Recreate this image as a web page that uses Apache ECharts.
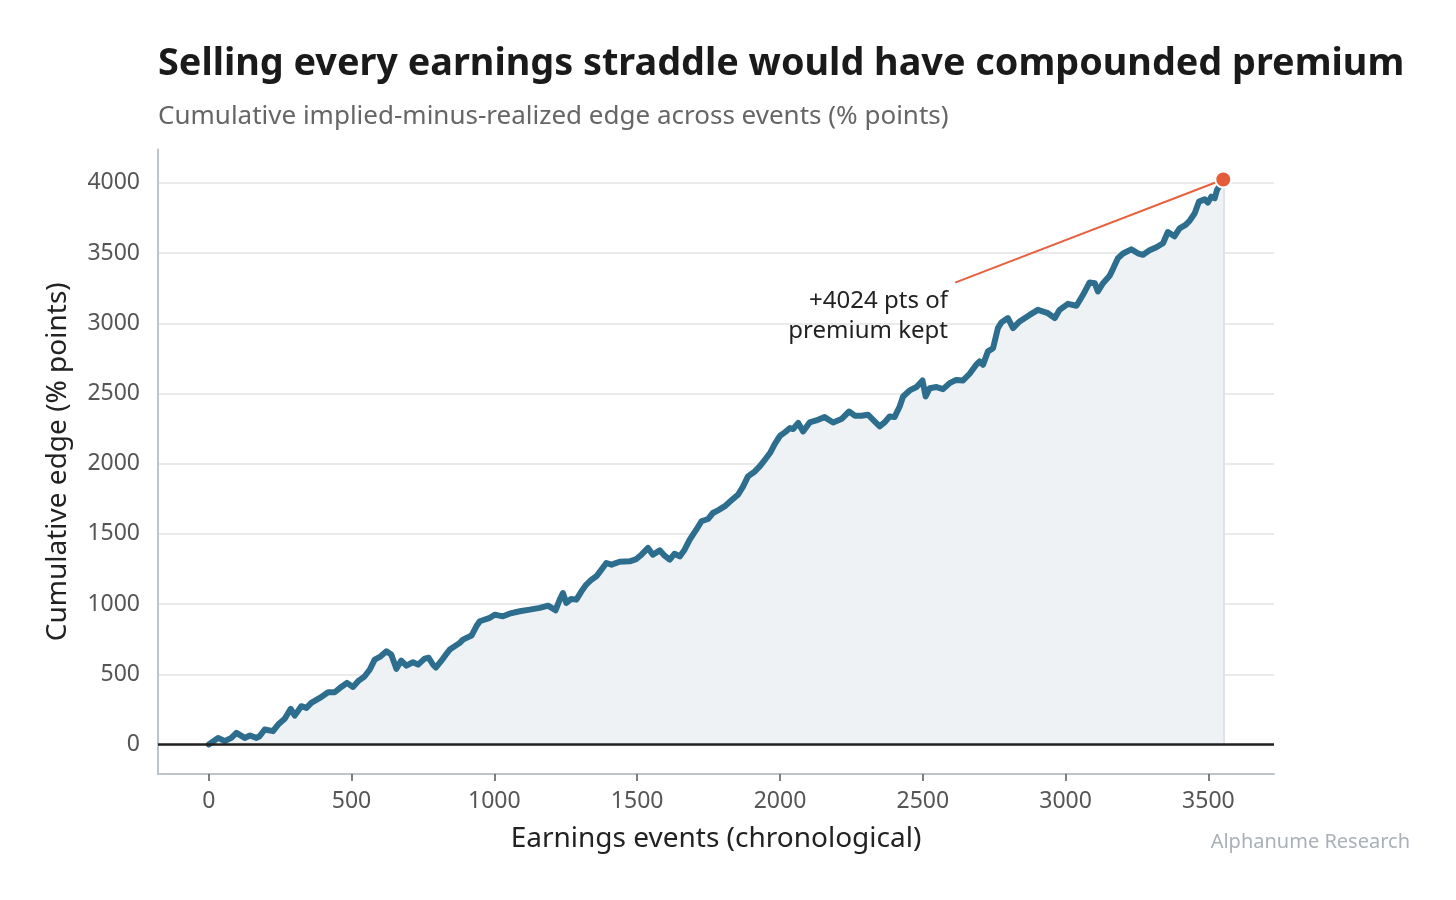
<!DOCTYPE html>
<html>
<head>
<meta charset="utf-8">
<script src="https://cdn.jsdelivr.net/npm/echarts@6/dist/echarts.min.js"></script>
<style>
html,body{margin:0;padding:0;background:#fff;}
#chart{width:1456px;height:900px;}
</style>
</head>
<body>
<div id="chart"></div>
<script>
// ---- data ----
const eventIdx = [0,33,56,79,97,126,144,167,178,196,225,243,266,287,301,324,342,359,389,418,441,464,484,505,523,546,564,581,599,622,639,657,674,692,715,733,756,770,785,795,812,830,844,879,890,920,937,949,984,1001,1030,1053,1089,1124,1159,1188,1214,1229,1240,1252,1269,1287,1305,1322,1340,1357,1375,1392,1410,1439,1474,1497,1515,1538,1555,1579,1596,1614,1631,1649,1666,1684,1707,1725,1748,1765,1783,1806,1830,1853,1871,1888,1912,1929,1947,1965,1982,2000,2017,2035,2046,2064,2081,2104,2127,2156,2186,2215,2242,2262,2285,2308,2326,2349,2366,2384,2401,2419,2431,2454,2478,2499,2510,2524,2548,2571,2594,2617,2641,2664,2687,2699,2711,2728,2746,2763,2775,2798,2816,2839,2874,2903,2938,2962,2979,3008,3038,3061,3084,3102,3113,3131,3154,3166,3183,3201,3230,3253,3271,3294,3318,3341,3358,3381,3399,3420,3434,3452,3467,3487,3498,3510,3522,3530,3552];
const cumEdge = [0,47,24,47,83,47,64,47,59,107,95,142,183,254,206,273,261,297,332,372,372,410,439,410,451,486,534,605,624,664,641,539,598,562,586,569,612,618,570,548,590,640,676,724,747,776,842,878,902,925,913,932,949,961,973,989,956,1032,1079,1008,1037,1032,1091,1139,1174,1198,1246,1293,1281,1302,1305,1321,1352,1400,1352,1383,1345,1317,1359,1340,1388,1459,1530,1590,1606,1649,1668,1696,1739,1779,1839,1910,1945,1981,2028,2076,2142,2199,2223,2254,2247,2290,2230,2294,2308,2332,2294,2318,2372,2342,2342,2349,2313,2266,2294,2337,2332,2408,2479,2522,2546,2593,2479,2538,2546,2531,2574,2597,2593,2641,2705,2728,2705,2800,2823,2966,3006,3037,2966,3013,3060,3096,3072,3037,3096,3139,3125,3203,3291,3286,3227,3286,3338,3388,3464,3497,3527,3499,3488,3520,3542,3570,3650,3620,3677,3701,3730,3784,3867,3883,3860,3902,3891,3950,4024];
const xTicks = [0,500,1000,1500,2000,2500,3000,3500];
const yTicks = [0,500,1000,1500,2000,2500,3000,3500,4000];
const titleText = 'Selling every earnings straddle would have compounded premium';
const subtitleText = 'Cumulative implied-minus-realized edge across events (% points)';
const xName = 'Earnings events (chronological)';
const yName = 'Cumulative edge (% points)';
const annoLines = ['+4024 pts of', 'premium kept'];
const annoAnchor = [2588, 3262];   // text anchor (data units)
const annoLineStart = [2613, 3290];
const sourceText = 'Alphanume Research';

const FONT = 'Noto Sans';
const lineData = eventIdx.map((x, i) => [x, cumEdge[i]]);
const lastX = eventIdx[eventIdx.length - 1];
const lastY = cumEdge[cumEdge.length - 1];
const plain = v => String(Math.round(v));

const chart = echarts.init(document.getElementById('chart'), null, {renderer: 'canvas'});
chart.setOption({
  animation: false,
  backgroundColor: '#ffffff',
  textStyle: {fontFamily: FONT},
  title: [
    {text: titleText, left: 153, top: 40,
     textStyle: {fontFamily: FONT, fontSize: 37.8, fontWeight: 'bold', color: '#1a1a1a'}},
    {text: subtitleText, left: 153, top: 99,
     textStyle: {fontFamily: FONT, fontSize: 26, fontWeight: 'normal', color: '#666666'}},
    {text: sourceText, right: 41, top: 827,
     textStyle: {fontFamily: FONT, fontSize: 20, fontWeight: 'normal', color: '#a9b0b7'}}
  ],
  grid: {left: 158, right: 182, top: 149.5, bottom: 126, containLabel: false},
  xAxis: {
    type: 'value', min: -177.6, max: 3729.6,
    name: xName, nameLocation: 'middle', nameGap: 51,
    nameTextStyle: {fontFamily: FONT, fontSize: 28, color: '#222222'},
    axisLine: {show: true, onZero: false, lineStyle: {color: '#bcc4cc', width: 2}},
    axisTick: {show: true, length: 7, inside: false, customValues: xTicks, lineStyle: {color: '#555555', width: 1.5}},
    axisLabel: {customValues: xTicks, formatter: plain, fontSize: 23, color: '#555555', margin: 16, fontFamily: FONT},
    splitLine: {show: false}
  },
  yAxis: {
    type: 'value', min: -210, max: 4238,
    name: yName, nameLocation: 'middle', nameGap: 86, nameRotate: 90,
    nameTextStyle: {fontFamily: FONT, fontSize: 28, color: '#222222'},
    axisLine: {show: true, onZero: false, lineStyle: {color: '#bcc4cc', width: 2}},
    axisTick: {show: false, customValues: yTicks},
    axisLabel: {customValues: yTicks, formatter: plain, fontSize: 23, color: '#555555', margin: 18, fontFamily: FONT},
    splitLine: {show: true, lineStyle: {color: '#e3e3e3', width: 1.5}}
  },
  series: [
    {
      type: 'line', data: lineData, showSymbol: false, smooth: false,
      lineStyle: {color: '#2d6e8e', width: 6, join: 'round', cap: 'round'},
      areaStyle: {color: '#eef2f5', origin: 0, opacity: 1},
      z: 3,
      markLine: {
        silent: true, symbol: 'none', animation: false,
        label: {show: false},
        data: [
          [{coord: [lastX, 0], lineStyle: {color: '#dde3e8', width: 2, type: 'solid'}}, {coord: [lastX, lastY]}],
          [{yAxis: 0, x: 158, lineStyle: {color: '#222222', width: 2.5, type: 'solid'}}, {yAxis: 0, x: 1274}]
        ]
      }
    },
    {
      type: 'line', data: [annoLineStart, [lastX, lastY]], showSymbol: false,
      lineStyle: {color: '#e8603c', width: 2}, z: 4, silent: true
    },
    {
      type: 'scatter', data: [[lastX, lastY]], symbolSize: 16,
      itemStyle: {color: '#e45d3a', borderColor: '#ffffff', borderWidth: 2, opacity: 1},
      z: 5,
      markPoint: {
        symbol: 'circle', symbolSize: 0,
        data: [{coord: annoAnchor}],
        label: {show: true, position: 'inside', formatter: annoLines.join('\n'),
          align: 'right', verticalAlign: 'top', fontSize: 24, lineHeight: 30, color: '#222222', fontFamily: FONT}
      }
    }
  ]
});
</script>
</body>
</html>
